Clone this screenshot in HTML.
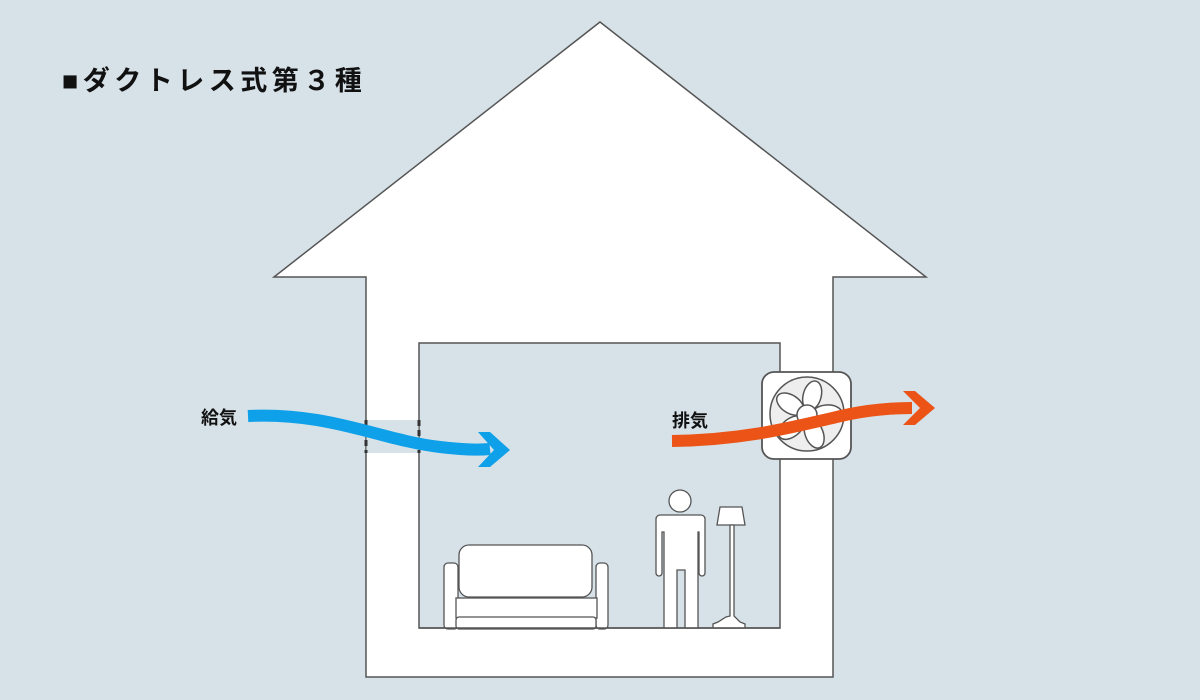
<!DOCTYPE html>
<html><head><meta charset="utf-8"><style>
html,body{margin:0;padding:0;background:#d6e1e8;}
svg{display:block;}
text{font-family:"Liberation Sans","Noto Sans CJK JP",sans-serif;font-weight:bold;fill:#111;}
</style></head><body>
<svg width="1200" height="700" viewBox="0 0 1200 700" xmlns="http://www.w3.org/2000/svg">
<rect width="1200" height="700" fill="#d6e1e8"/>
<text x="62" y="90" font-size="27" letter-spacing="4.5">■ダクトレス式第３種</text>
<!-- house -->
<path d="M600,22 L926,277 L833,277 L833,677 L366,677 L366,277 L274,277 Z" fill="#fff" stroke="#555" stroke-width="1.5"/>
<rect x="419" y="343" width="361" height="285" fill="#d6e1e8" stroke="#555" stroke-width="1.5"/>
<!-- duct opening -->
<rect x="366.5" y="420" width="52" height="33" fill="#d6e1e8"/>
<line x1="366" y1="420" x2="366" y2="453" stroke="#333" stroke-width="3" stroke-dasharray="6,4"/>
<line x1="419" y1="420" x2="419" y2="453" stroke="#333" stroke-width="3" stroke-dasharray="6,4"/>
<!-- sofa -->
<g fill="#fff" stroke="#555" stroke-width="1.3">
<rect x="444" y="563" width="14" height="66" rx="4"/>
<rect x="596" y="563" width="12" height="66" rx="4"/>
<rect x="456" y="598" width="141" height="20"/>
<rect x="456" y="617" width="140" height="12" rx="3"/>
<rect x="459" y="545" width="133" height="52" rx="10"/>
</g>
<!-- person -->
<g fill="#fff" stroke="#555" stroke-width="1.3">
<circle cx="680" cy="501" r="11"/>
<path d="M660,515 H701 a4,4 0 0 1 4,4 V573 a3,3 0 0 1 -6,0 V532 H698 V628 H685 V570 H677 V628 H664 V532 H662 V573 a3,3 0 0 1 -6,0 V519 a4,4 0 0 1 4,-4 Z"/>
<path d="M720,507 H742 L745,525 H717 Z"/>
<path d="M730,525 H734 V616 L740,622 L745,624 V628 H713 V624 L718,622 L726,617 L730,616 Z"/>
</g>
<line x1="419" y1="628" x2="780" y2="628" stroke="#555" stroke-width="1.5"/>
<!-- fan -->
<rect x="762" y="372" width="89" height="87" rx="12" fill="#fff" stroke="#555" stroke-width="1.8"/>
<circle cx="807" cy="414" r="37" fill="#eee" stroke="#555" stroke-width="1.5"/>
<g fill="#fff" stroke="#555" stroke-width="1.5">
<g transform="translate(807,415)">
<ellipse cx="0" cy="-20" rx="9" ry="15" transform="rotate(15)"/>
<ellipse cx="0" cy="-20" rx="9" ry="15" transform="rotate(87)"/>
<ellipse cx="0" cy="-20" rx="9" ry="15" transform="rotate(159)"/>
<ellipse cx="0" cy="-20" rx="9" ry="15" transform="rotate(231)"/>
<ellipse cx="0" cy="-20" rx="9" ry="15" transform="rotate(303)"/>
<circle cx="0" cy="0" r="10"/>
</g></g>
<!-- blue arrow -->
<path d="M248,416 C330,412 380,440 440,447 C465,450 480,450 490,449" fill="none" stroke="#0ea0e8" stroke-width="12"/>
<path d="M478,432 L490,432 L510,450 L490,467 L478,467 L494,450 Z" fill="#0ea0e8"/>
<!-- orange arrow -->
<path d="M672,441 C750,440 800,425 850,414 C875,409 895,408 912,408" fill="none" stroke="#eb5416" stroke-width="12"/>
<path d="M903,391 L915,391 L935,408 L915,425 L903,425 L920,408 Z" fill="#eb5416"/>
<text x="201" y="424" font-size="18">給気</text>
<text x="672" y="427" font-size="18">排気</text>
</svg>
</body></html>
